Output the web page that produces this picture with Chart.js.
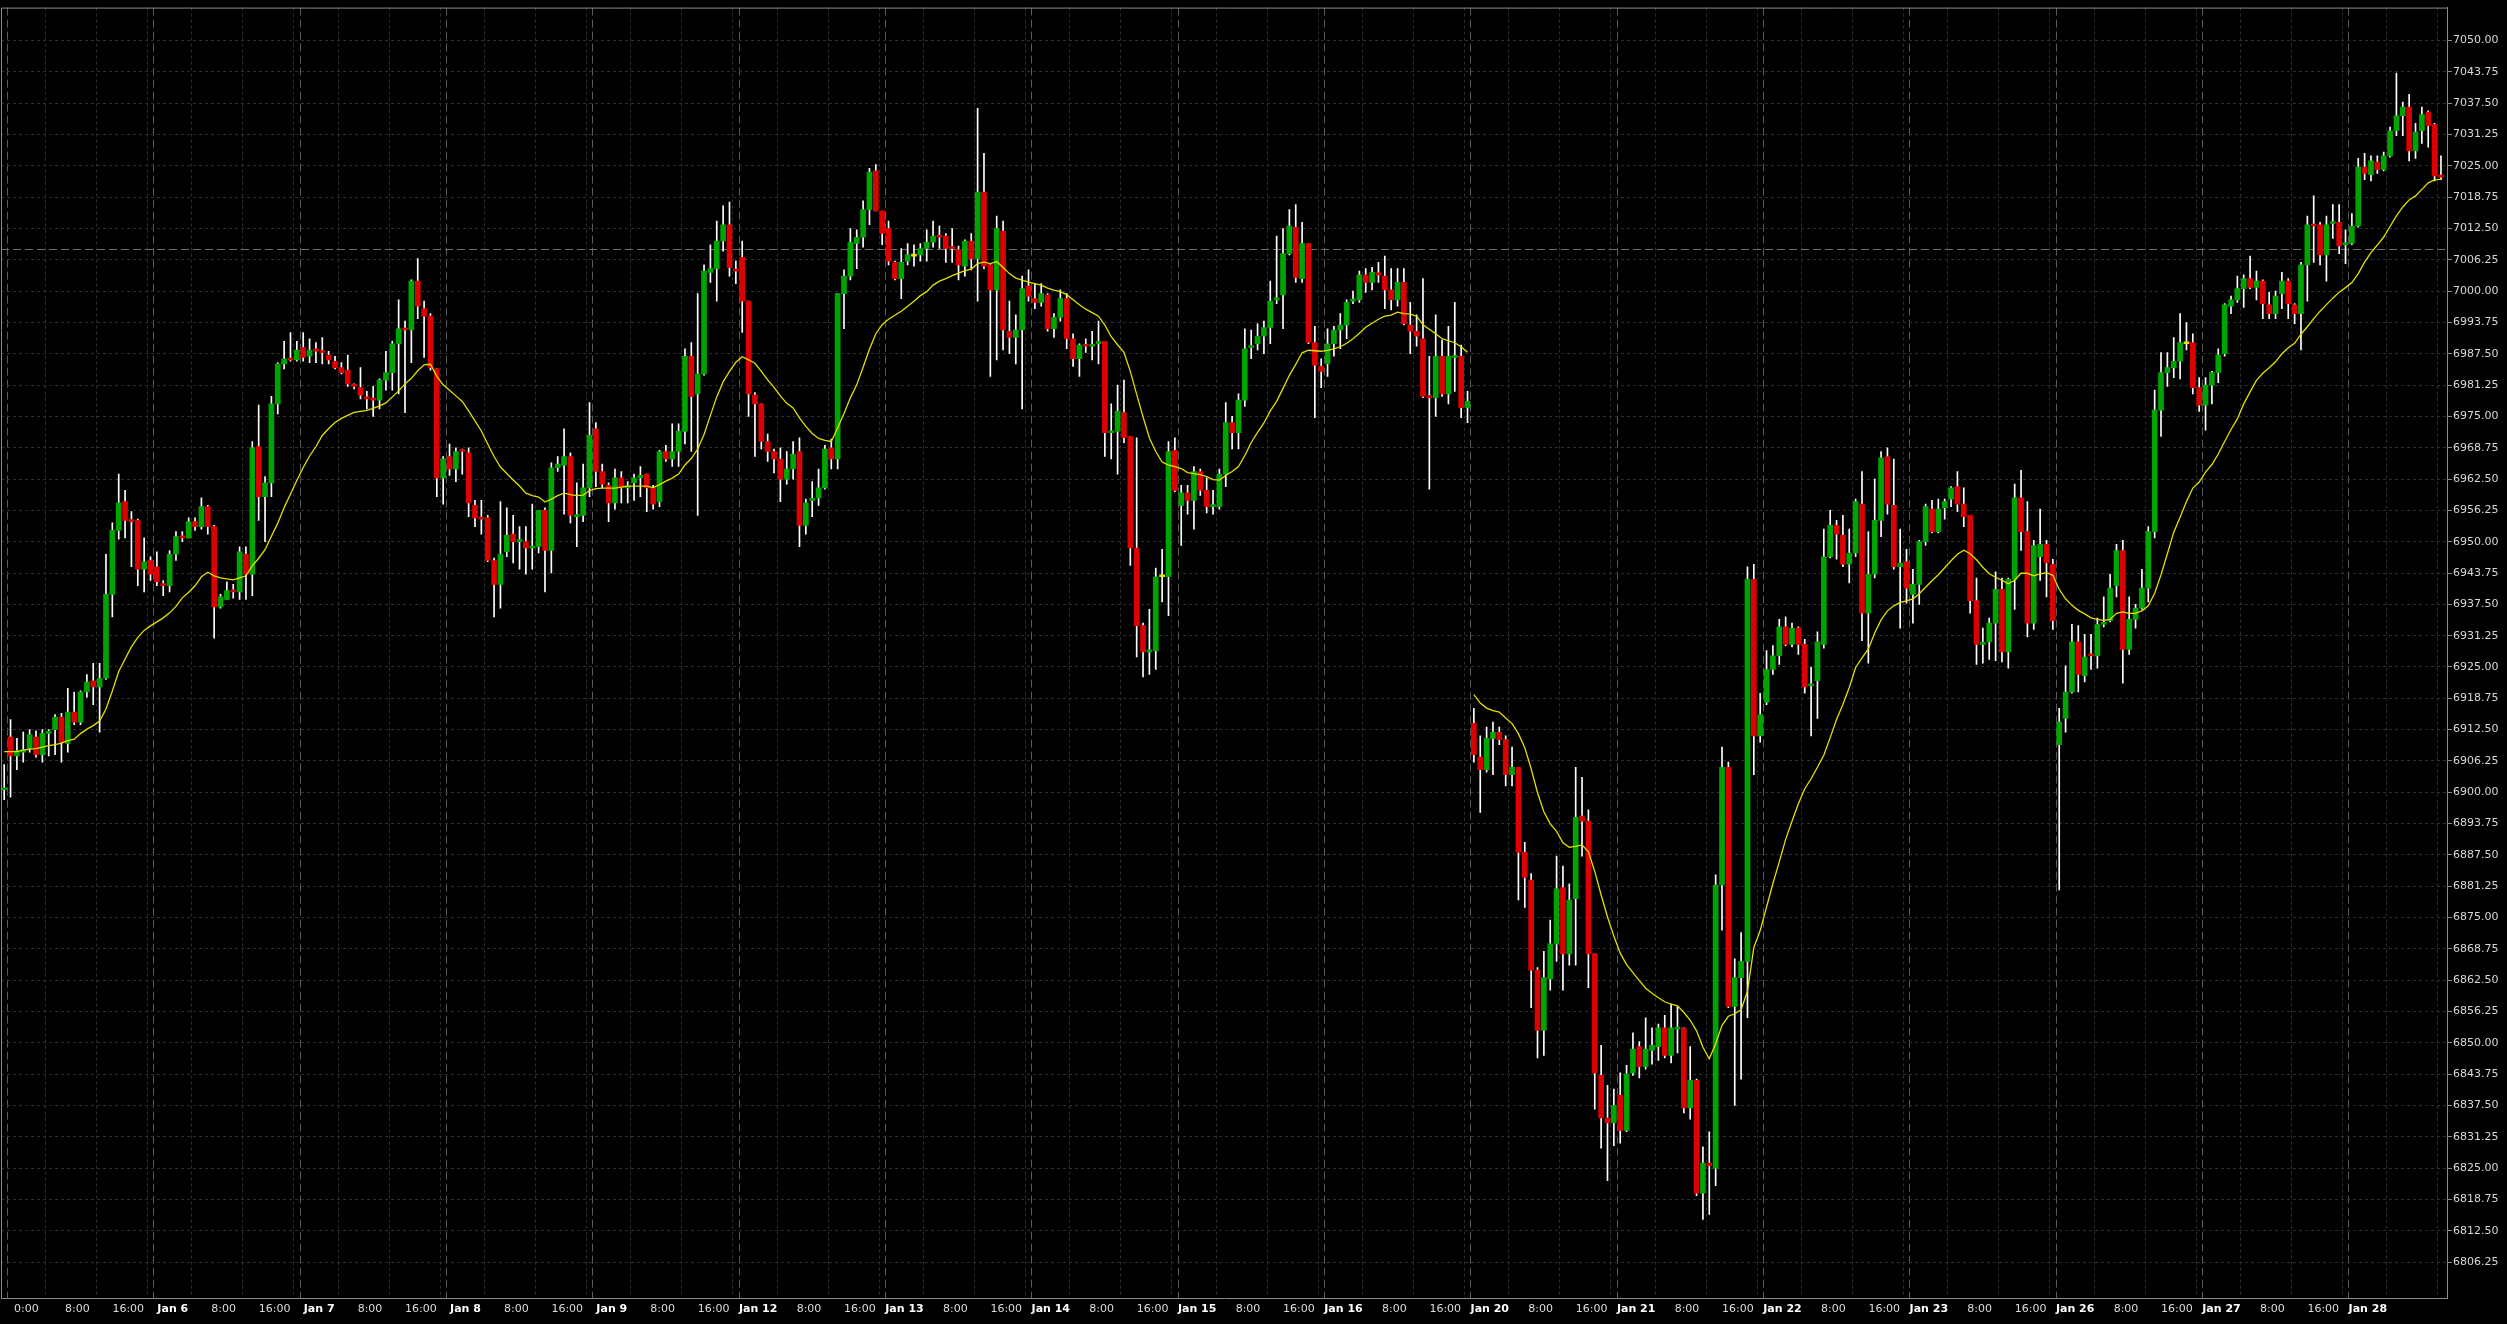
<!DOCTYPE html>
<html><head><meta charset="utf-8">
<script src="https://cdn.jsdelivr.net/npm/chart.js@4.4.1/dist/chart.umd.min.js"></script>
<style>html,body{margin:0;padding:0;background:#000;overflow:hidden}#wrap{width:2507px;height:1324px;position:relative}</style>
</head><body><div id="wrap"><canvas id="c"></canvas></div>
<script>
// ---- data (hourly candles) ----
const opens=[
6900.5,6911,6907.25,6908,6908.75,6911,6907.5,6911.75,6912.5,6915,
6909.75,6916,6914,6920,6922.25,6921,6922.75,6939.5,6952.25,6958,
6954.25,6954.25,6944.5,6946.25,6945,6941.5,6941.25,6947.5,6951,6950.75,
6954,6953,6957,6953,6937,6938.5,6940.25,6940,6947.5,6943.5,
6969,6959,6961.75,6977.5,6985.5,6986.5,6986.25,6988.75,6987,6988.5,
6988,6987.25,6986,6984.75,6984.25,6981.25,6980.75,6978.75,6978.5,6978.25,
6982.25,6983.75,6989.5,6992.5,6992.25,7002,6996.5,6995,6984.5,6962.75,
6967,6964.5,6968.25,6967.75,6957.25,6954.75,6954.75,6946.25,6941.5,6948,
6951.5,6950,6950,6948.75,6949,6956.25,6948.25,6964.75,6965.25,6967,
6955,6955.25,6960.75,6972.5,6964,6961.25,6957.75,6962.75,6960.75,6961.75,
6962.75,6963.5,6960.75,6958,6968,6966.5,6968,6972,6987,6979.5,
6983.5,7003.75,7004.5,7010,7013.25,7004.25,7006.75,6998,6979.25,6977.5,
6970,6968,6966.5,6962.5,6964.5,6968,6953.25,6958.25,6958.75,6960.75,
6968.75,6966.5,6999.5,7003,7009.5,7010.75,7016.25,7024,7016,7012.5,
7005.75,7002.5,7006,7007,7007.25,7008.5,7009.75,7011,7011,7008.75,
7008.25,7005,7010,7006.5,7019.75,7005.25,7000.25,7012,6992,6990.75,
6992.25,7001,6998.5,6997.75,6999.25,6992.5,6994.75,6998.5,6990.5,6986.5,
6989.25,6989,6989.5,6990,6971.75,6972,6975.75,6971,6948.75,6933.25,
6928,6928.25,6943,6943,6968.25,6957.25,6959.75,6958.25,6964,6960.25,
6957,6957,6963.5,6973.75,6971.75,6978.25,6988.75,6989.5,6991,6992.75,
6998.25,6999.25,7007.5,7012.75,7002.5,7009.5,6989.75,6985,6985.5,6989.5,
6992.25,6993.25,6998,6998.25,7003.25,7001.75,7003.5,7003,7000.25,6998.25,
7001.75,6993.25,6992,6990.5,6979,6978.75,6987,6979.5,6986.75,6987,
6976.75,6913.75,6907,6904.5,6910.75,6912,6910.5,6903.5,6905,6888,
6882.5,6864.5,6852.5,6862.75,6869.75,6881,6867.75,6878.75,6895.25,6894.25,
6867.75,6843.5,6835,6834,6839.5,6832.5,6844,6849.25,6845.25,6848.5,
6849.25,6853,6847.5,6852.75,6853,6837,6842.5,6820,6826,6825,
6881.5,6905,6857.25,6863,6866.25,6942.5,6911.25,6918,6924.5,6927.25,
6933,6929.5,6932.75,6929.5,6921.25,6922.25,6929.5,6947,6953.25,6951.25,
6945.5,6947.75,6957.5,6935.75,6943.5,6954.25,6967,6957.25,6945,6946,
6939.5,6941.5,6950,6956.5,6952,6956.75,6958.5,6961,6957.5,6955.25,
6938.25,6929.5,6930,6933.75,6940.5,6928,6942.5,6958.75,6952,6933.75,
6947,6949.5,6945.5,6909.5,6914.75,6920,6930,6923.25,6927.5,6927.25,
6933.5,6934.25,6941.25,6948.25,6928.5,6934.5,6936.75,6940.75,6952,6976.25,
6983.75,6984.75,6986,6989.5,6989.75,6980.75,6977.25,6981.25,6983.75,6987.5,
6997,6998.25,7000.5,7002.5,7000.75,7002,6997.25,6995.5,6999.5,7002,
6997.25,6995.5,7005.25,7013.25,7013.25,7007.25,7013.5,7013.75,7009.25,7009.5,
7013,7024.75,7023.25,7025.75,7024.25,7027,7032,7035,7036.75,7028,
7032,7035.75,7033.25,7023];
const highs=[
6905.5,6914.5,6910.75,6912,6912.5,6912.25,6912.5,6912.5,6915.5,6915.75,
6920.75,6920,6920.25,6923.5,6925.75,6925.75,6947.5,6953.75,6963.5,6960.25,
6956,6954.5,6950.75,6947,6948,6942.25,6948.25,6952,6952,6954.75,
6954.75,6958.75,6957.25,6953.25,6939.5,6942,6941.5,6949,6949,6970,
6977.25,6963,6979,6985.75,6990,6991.75,6990,6991.75,6990.5,6989.75,
6990.75,6988,6987,6985.75,6987.25,6981.5,6984.75,6980,6981,6982.5,
6988,6990,6998.25,6994,7002.25,7006.5,6998,6995.5,6984.5,6967,
6969.5,6968.75,6968.5,6968.75,6958.25,6958.25,6955.25,6946.75,6958,6956.75,
6955.25,6953,6953,6957.5,6956.25,6956.75,6965.75,6967,6972.5,6967.75,
6961.75,6965.5,6977.75,6973.75,6965.5,6961.75,6964.5,6964,6962,6963.5,
6965,6963.5,6961.25,6968.25,6969.25,6973.5,6973.5,6988.5,6989.75,6999.5,
7005.25,7009.25,7014,7017,7017.75,7006,7010,6998,6979.75,6977.5,
6971.5,6968.5,6968.75,6968,6970,6970.75,6958.5,6962,6964.5,6969.25,
6970.5,6999.5,7004.25,7012.5,7012.25,7018,7024.5,7025.25,7016,7014,
7006,7008.5,7009.5,7009.25,7009.5,7012.25,7014,7013,7011.5,7012.5,
7009,7010.25,7011.5,7036.5,7027.5,7005.5,7015,7014,6998,6995.25,
7003,7004.25,7001.5,7001.5,6999.5,6995.5,7000.25,6999.5,6991.5,6989.5,
6990.5,6992,6994,6990,6977.5,6981.25,6982.25,6971,6970.75,6933.75,
6936.5,6944.75,6948.5,6970,6970.75,6961.25,6961.25,6965,6964.5,6962.75,
6960.25,6964.5,6977.75,6975,6979.5,6992.5,6992.25,6993.5,6994,7002,
7011,7012.5,7016.25,7017.25,7013.75,7009.5,6993,6986.5,6992.5,6993,
6995.5,6998.25,7000,7004,7004.5,7004.75,7005.75,7007,7004.5,7004.5,
7004.5,6997.75,6995.25,7002.5,6987,6995.25,6990.25,6993,6997.75,6989.25,
6980,6916.75,6911.25,6913,6914,6913,6911.25,6909,6905,6890,
6883.75,6865,6868.25,6874.5,6887.25,6885.25,6881.75,6905,6903,6896.5,
6867.75,6849.5,6841.5,6840.75,6844,6845.5,6852,6850.25,6855,6853,
6853.75,6855.5,6857.75,6857.25,6853,6849.25,6842.75,6829.25,6832.25,6883.5,
6909,6906,6866.75,6872,6945,6945.5,6919.75,6928.25,6929.25,6934.5,
6935,6933.75,6933,6930.5,6925,6932,6952.5,6956.25,6954.25,6955.25,
6952.5,6958.5,6964,6952,6962.5,6968,6968.75,6966.5,6952.5,6948.5,
6944.5,6950.25,6957.5,6958.25,6958.5,6958.5,6961,6964,6960.75,6955.25,
6942.75,6932.75,6934.75,6944,6942.75,6942.75,6961.5,6964.25,6958,6950.25,
6956.5,6950.25,6946.5,6916.75,6925.25,6933.5,6933.25,6931.5,6931.5,6934.75,
6939,6943.5,6949.5,6950.25,6939,6937.5,6944.5,6953,6980.25,6987.75,
6987.75,6990.75,6995.5,6993.75,6991.5,6982.75,6982.75,6984,6988.5,6997.5,
6999,7003,7003.25,7007,7004,7002.25,6999.75,7000,7003.75,7002.5,
6997.5,7005.75,7015,7019,7013.75,7015,7017.25,7017.25,7012.25,7015.5,
7026.5,7027.5,7027,7027,7027.75,7032.75,7043.5,7037.75,7039.25,7033.5,
7036.75,7036,7033.5,7027];
const lows=[
6898.5,6899,6904.5,6906,6908,6907,6906,6907.25,6907.5,6906,
6908,6913.5,6913.5,6919,6917.5,6912,6922.5,6935,6950.5,6950.75,
6945,6941.25,6940,6942.25,6941.25,6939.25,6940,6946.25,6950,6950.75,
6952.25,6952.5,6951.5,6930.75,6936.75,6938.5,6938.75,6938.5,6938.5,6939.25,
6954.25,6950,6959,6975.5,6984.5,6986,6986,6986,6985.75,6985.75,
6985.5,6985.5,6984.5,6983.5,6981,6980.5,6978.5,6976.5,6975,6976.5,
6980.25,6980.25,6979.5,6975.75,6985.75,6994.5,6986.75,6984.25,6959,6957.5,
6963.25,6962,6963.5,6955,6953,6951.5,6946,6935,6936.75,6947,
6945.75,6944.5,6943.5,6944.5,6947.75,6940,6943.75,6964,6955.5,6953.75,
6949,6954,6959,6961,6960.75,6954,6956.5,6957.75,6957.75,6958.25,
6959,6956,6956.5,6957,6966,6965,6965,6969.5,6968,6955.25,
6983.25,7001.75,6998,7008,7003,7001.5,6991.75,6975,6967,6968.5,
6966,6963.75,6958,6961.5,6962.5,6949,6951.5,6955,6957.25,6960.5,
6964.5,6964.5,6992.5,7002.25,7004.5,7008.75,7013.25,7016,7009.25,7005.25,
7002.25,6998.5,7005.25,7005,7006,7006,7008.75,7008.5,7005.75,7005.75,
7002.25,7003,7004.25,6998,7004.5,6983,6986.25,6988.25,6987.5,6985.5,
6976.5,6998,6996.5,6997,6992,6990.75,6994,6988.5,6985,6983,
6987.75,6986.25,6985.5,6967,6966.5,6963.5,6969.75,6945.25,6927,6923,
6923.5,6924.5,6938,6935.25,6960,6949.25,6955.5,6952.5,6959.25,6955.75,
6955.5,6956.5,6961,6968.5,6968.5,6977,6986.5,6988.25,6987.5,6989.5,
6997.5,6992.5,7007.25,7001.75,7001.75,6989.5,6974.75,6980.75,6983,6987,
6988.5,6990.5,6997.5,6997.75,6999.75,7000.25,7001.75,6996.5,6996.25,6997,
6993.25,6987.5,6989,6978.75,6960.5,6975,6979,6977.5,6980,6974.75,
6973.75,6906,6896,6904,6903.5,6909.5,6901.25,6901.25,6878.5,6877,
6857,6847,6847.5,6860.5,6866.25,6860.5,6865.5,6865.5,6887.25,6861,
6836.75,6829,6822.5,6829.5,6830,6832.25,6843.5,6843,6844.75,6845.75,
6846.5,6847,6846,6848,6836,6834.75,6819.5,6814.75,6815.75,6821.5,
6872.5,6857,6837.5,6842.75,6855,6903.5,6910,6917.5,6923.5,6925.5,
6929.25,6929,6927.5,6919.75,6911.25,6914.75,6928.75,6946.75,6946.5,6945,
6941.75,6947,6930.25,6925.75,6942.75,6951,6955.5,6944.5,6932.75,6937.75,
6933.75,6937.5,6949.25,6951.75,6951.75,6954.5,6957,6956,6953,6935.75,
6925.5,6925.75,6926.5,6926.25,6926,6924.75,6936.5,6948.25,6931,6932.5,
6942.25,6939,6932.5,6880.5,6912,6919.75,6920,6922,6924.5,6924.75,
6933,6934,6939,6921.75,6927.5,6932.75,6936.5,6938,6950.75,6971,
6981,6982.75,6982.5,6988.25,6979.5,6976,6972.25,6977.5,6981.75,6987,
6995.5,6997.75,6996.75,7000.5,6998.25,6994.5,6994.5,6994.5,6996.5,6994.5,
6993.5,6988.25,6998,7005.75,7005.25,7002,7010.5,7007.5,7005.5,7009.25,
7012.75,7022.25,7022,7023.5,7024,7026.75,7031,7031,7026,7026.5,
7029.5,7028.75,7022,7022.25];
const closes=[
6900.75,6907.25,6908.25,6908.5,6911.5,6907.5,6911.75,6912,6915,6910,
6916,6914,6920,6922,6921,6922.75,6939.5,6952.25,6957.75,6954.25,
6954,6944.5,6946,6943.5,6942,6941.25,6947.5,6951,6950.75,6954,
6953,6957,6953,6937,6939,6940.25,6940,6948,6943.5,6968.75,
6959,6961.75,6977.5,6985.5,6986.5,6986.25,6988.25,6986.75,6988.25,6988,
6987.75,6986.25,6984.75,6983.75,6981.5,6981,6979.25,6978.5,6978.25,6982.25,
6983.75,6989.5,6992.5,6992.25,7002,6997,6995,6984.75,6962.75,6966.5,
6964.5,6968,6968,6957.75,6954.75,6954.5,6946.25,6941.5,6947.5,6951.25,
6950,6950.25,6948.75,6949,6956.25,6948.25,6964.75,6965.5,6967,6955.25,
6955.25,6960.75,6971.25,6964,6961.5,6957.75,6962.75,6960.75,6961,6962.75,
6963.25,6960.75,6957.5,6968,6966.5,6968,6972,6987,6979,6983.5,
7004,7004.5,7010,7013.25,7004.75,7004,6998,6979.5,6977.5,6970,
6968,6966.5,6962.5,6964.5,6967.5,6953.25,6957.75,6958.5,6960.75,6968.5,
6966.5,6999.5,7003,7009.75,7010.75,7016.25,7023.75,7016,7011.5,7006,
7002.5,7005.75,7007.25,7007,7008.5,7009.75,7011,7010.75,7008.5,7008.5,
7005.25,7010,7006.5,7019.75,7005,7000.25,7012.5,6992.25,6990.75,6992.25,
7000.5,6999,6997.75,6999.5,6992.5,6994.75,6998.5,6990.5,6986.5,6989.25,
6989,6989.25,6990,6971.75,6972,6976,6970.75,6948.75,6933.25,6928,
6928.25,6943,6943,6968,6960.25,6959.75,6958.25,6964,6960.25,6957,
6957.25,6963.5,6973.75,6971.75,6978.25,6988.5,6989,6991,6992.75,6998,
6998.5,7007.5,7013,7002.75,7009.5,6989.75,6985.25,6984,6989.5,6992.25,
6993.25,6997.75,6998.25,7003.25,7001.75,7003.75,7003.25,7000.25,6998.25,7001.75,
6993.5,6992,6991,6979,6978.75,6987,6979.5,6987,6987,6976.75,
6978,6907.5,6904.5,6910.75,6912,6910.5,6903.5,6905,6888,6883,
6864.5,6852.5,6863,6869.75,6880.75,6867.75,6878.5,6895,6894.25,6867.75,
6844,6835,6834,6837.5,6832.5,6843.75,6848.75,6845.25,6848.75,6849.5,
6853,6847.5,6853,6853,6837,6842.5,6820,6826,6825.5,6881.5,
6905,6857.25,6863,6866.25,6942.5,6911.25,6915.5,6924.5,6927.25,6933,
6929.5,6932.75,6929.5,6921,6921.5,6930,6947,6953.25,6951.5,6945.5,
6947.75,6958,6935.75,6943.5,6954.25,6966.75,6957.5,6945,6945.75,6940.75,
6941.5,6950,6957,6952,6956.5,6958,6960.75,6957.5,6955,6938.25,
6929.5,6929.75,6933.75,6940.5,6928,6942.5,6958.75,6952,6933.75,6949.25,
6949.5,6945.75,6934.25,6914,6920,6930,6923.5,6927,6927.25,6933.5,
6933.75,6940.75,6948.25,6928.5,6934.5,6936.75,6940.75,6952,6976.25,6983.75,
6984.75,6986,6989.75,6989.5,6980.75,6977.25,6981.25,6983.75,6987.25,6997.25,
6998.25,7000.5,7002.5,7000.75,7002,6997.5,6995.5,6999,7002,6997.5,
6995.5,7005.25,7013.25,7013,7007.25,7013.25,7013.75,7009,7009.5,7013,
7024.75,7023.5,7026,7024.25,7027,7032,7035,7036.75,7028,7031.75,
7035.25,7033,7023,7022.75];
const maValues=[
6908.1,6908.1,6908.1,6908.4,6908.6,6908.7,6909.0,6909.3,6909.5,6909.8,
6910.3,6910.6,6911.7,6912.6,6913.3,6914.2,6916.6,6920.2,6924.1,6926.6,
6929.0,6930.9,6932.3,6933.2,6934.0,6934.8,6935.8,6937.1,6938.8,6939.9,
6941.2,6943.0,6943.9,6943.2,6942.8,6942.6,6942.4,6942.8,6943.2,6945.2,
6946.7,6948.4,6951.1,6953.7,6956.8,6959.5,6962.2,6964.8,6967.1,6969.0,
6971.2,6972.6,6973.8,6974.6,6975.2,6975.8,6976.0,6976.2,6976.6,6977.1,
6977.7,6978.9,6980.1,6981.5,6982.6,6984.1,6985.3,6985.4,6983.0,6981.3,
6980.2,6979.1,6978.0,6976.1,6974.1,6972.1,6969.5,6967.0,6964.9,6963.6,
6962.3,6961.1,6959.7,6959.2,6958.9,6957.9,6958.5,6959.2,6959.7,6959.4,
6959.2,6959.3,6960.2,6960.6,6960.7,6960.7,6960.7,6960.9,6961.1,6961.1,
6961.1,6961.1,6960.8,6961.4,6962.1,6962.7,6963.5,6965.3,6966.6,6968.5,
6971.4,6975.2,6978.9,6981.9,6984.0,6985.8,6986.9,6986.3,6985.6,6984.0,
6982.3,6980.8,6979.1,6977.6,6976.7,6974.7,6973.0,6971.6,6970.6,6970.2,
6970.0,6972.7,6975.6,6978.7,6981.3,6984.8,6988.4,6991.5,6993.3,6994.4,
6995.2,6996.0,6997.0,6998.0,6999.1,6999.9,7001.2,7002.0,7002.5,7003.1,
7003.6,7004.1,7004.4,7005.5,7005.8,7005.5,7005.9,7004.7,7003.5,7002.6,
7002.2,7001.8,7001.5,7001.2,7000.6,7000.2,6999.9,6999.3,6998.3,6997.3,
6996.4,6995.7,6995.0,6993.2,6990.9,6989.3,6987.8,6984.0,6979.4,6974.9,
6970.7,6968.0,6965.9,6965.3,6965.0,6964.6,6963.8,6963.6,6963.4,6963.0,
6962.4,6962.3,6963.2,6964.0,6965.0,6967.2,6969.8,6971.8,6973.7,6976.1,
6978.0,6980.6,6983.2,6985.4,6987.7,6988.2,6988.1,6988.0,6988.2,6988.5,
6988.9,6989.6,6990.5,6991.6,6992.8,6993.6,6994.4,6995.0,6995.2,6995.8,
6995.5,6995.4,6995.0,6993.3,6992.4,6991.5,6990.5,6990.1,6989.7,6988.9,
6987.8,6919.5,6917.8,6916.8,6916.3,6916.0,6914.8,6913.7,6911.7,6908.9,
6904.7,6899.9,6896.1,6893.7,6892.2,6889.9,6889.0,6889.2,6889.5,6888.1,
6884.2,6879.5,6875.1,6871.3,6867.9,6865.6,6864.0,6862.4,6860.9,6859.9,
6859.0,6858.2,6857.7,6857.4,6856.1,6854.5,6852.4,6849.1,6846.8,6849.8,
6853.5,6855.3,6855.8,6856.6,6860.3,6869.0,6872.4,6877.1,6881.8,6886.1,
6890.6,6894.2,6897.7,6900.7,6902.7,6905.0,6907.4,6910.9,6914.5,6917.5,
6920.9,6924.9,6926.8,6928.6,6931.8,6934.4,6936.2,6937.2,6937.9,6938.2,
6938.6,6939.6,6940.9,6942.2,6943.4,6944.8,6946.2,6947.5,6948.3,6947.6,
6946.4,6944.9,6943.6,6942.9,6942.3,6941.6,6942.3,6943.7,6943.7,6943.2,
6943.6,6943.8,6943.3,6940.5,6938.6,6937.3,6936.3,6935.6,6934.8,6934.5,
6934.3,6934.5,6935.7,6936.0,6935.7,6935.7,6936.2,6937.2,6939.7,6943.4,
6947.6,6951.9,6954.9,6958.0,6960.7,6961.9,6963.9,6965.4,6967.5,6970.0,
6972.4,6974.5,6977.5,6979.9,6982.2,6983.6,6984.7,6985.9,6987.5,6988.7,
6989.6,6991.4,6992.9,6994.5,6996.0,6997.3,6998.6,6999.8,7000.7,7001.7,
7003.5,7005.8,7007.7,7009.2,7010.8,7012.9,7015.0,7016.8,7018.2,7019.0,
7020.3,7021.6,7022.2,7022.3];
const xTickLabels=["0:00","8:00","16:00","Jan 6","8:00","16:00","Jan 7","8:00","16:00","Jan 8","8:00","16:00",
"Jan 9","8:00","16:00","Jan 12","8:00","16:00","Jan 13","8:00","16:00","Jan 14","8:00","16:00",
"Jan 15","8:00","16:00","Jan 16","8:00","16:00","Jan 20","8:00","16:00","Jan 21","8:00","16:00",
"Jan 22","8:00","16:00","Jan 23","8:00","16:00","Jan 26","8:00","16:00","Jan 27","8:00","16:00","Jan 28"];
const yTicks=[6806.25,6812.5,6818.75,6825,6831.25,6837.5,6843.75,6850,6856.25,6862.5,6868.75,6875,
6881.25,6887.5,6893.75,6900,6906.25,6912.5,6918.75,6925,6931.25,6937.5,6943.75,6950,6956.25,6962.5,
6968.75,6975,6981.25,6987.5,6993.75,7000,7006.25,7012.5,7018.75,7025,7031.25,7037.5,7043.75,7050];
const refPrice=7008.4;      // dashed reference line
const maBreakAfter=230;     // MA line is interrupted after this candle

// ---- layout helpers ----
const N=opens.length, perDay=23, xMin=-0.5, xMax=N-0.05;
const dayLines=[], hourLines=[];
for(let k=0;k*perDay+1<N;k++){
  const c0=1+perDay*k; dayLines.push(c0-0.5);
  for(let j=0;j<3;j++){const v=c0+5.5+8*j; if(v<xMax) hourLines.push(v);}
}
const daySet=new Set(dayLines);
const gridTicks=[...dayLines,...hourLines].sort((a,b)=>a-b);
const labelPos=xTickLabels.map((t,j)=>1+perDay*Math.floor(j/3)+2.5+8*(j%3));
const labelMap=new Map(labelPos.map((p,j)=>[p,xTickLabels[j]]));
const isDate=v=>{const t=labelMap.get(v);return !!t&&t.startsWith('Jan');};

const UP='#00a400', DOWN='#dc0000', FLAT='#e6e600';
const bodyColors=opens.map((o,i)=>closes[i]>o?UP:(closes[i]<o?DOWN:FLAT));

const framePlugin={id:'frame',
  beforeDatasetsDraw(chart){
    const {ctx,chartArea:a,scales:{y}}=chart;
    const yy=Math.round(y.getPixelForValue(refPrice))+0.5;
    ctx.save();ctx.strokeStyle='#6e6e6e';ctx.lineWidth=1;ctx.setLineDash([8,4]);
    ctx.beginPath();ctx.moveTo(a.left,yy);ctx.lineTo(a.right,yy);ctx.stroke();ctx.restore();
  },
  afterDraw(chart){
    const {ctx,chartArea:a}=chart;
    ctx.save();ctx.strokeStyle='#8c8c8c';ctx.lineWidth=1;
    ctx.beginPath();ctx.moveTo(a.left+0.5,a.bottom);ctx.lineTo(a.left+0.5,a.top+0.5);ctx.lineTo(a.right,a.top+0.5);ctx.stroke();ctx.restore();
  }};

new Chart(document.getElementById('c'),{
  type:'bar',
  data:{datasets:[
    {type:'line',label:'MA',data:maValues.map((v,i)=>({x:i,y:v})),borderColor:'#e0e000',borderWidth:1.3,
     pointRadius:0,tension:0,order:0,
     segment:{borderColor:c=>c.p0DataIndex===maBreakAfter?'rgba(0,0,0,0)':undefined}},
    {type:'bar',label:'body',data:opens.map((o,i)=>({x:i,y:[o,closes[i]]})),backgroundColor:bodyColors,
     borderWidth:0,grouped:false,barPercentage:1,categoryPercentage:1,maxBarThickness:5,minBarLength:2,order:1},
    {type:'bar',label:'wick',data:lows.map((l,i)=>({x:i,y:[l,highs[i]]})),backgroundColor:'#ffffff',
     borderWidth:0,grouped:false,barPercentage:1,categoryPercentage:1,maxBarThickness:1,order:2}
  ]},
  options:{
    responsive:true,maintainAspectRatio:false,animation:false,devicePixelRatio:1,
    layout:{padding:{top:6,left:1,right:0,bottom:0}},
    plugins:{legend:{display:false},tooltip:{enabled:false}},
    scales:{
      x:{type:'linear',position:'bottom',min:xMin,max:xMax,offset:false,weight:0,
        afterBuildTicks:s=>{s.ticks=gridTicks.map(v=>({value:v}));},
        afterFit:s=>{s.height=0;},
        ticks:{display:false,autoSkip:false},
        grid:{offset:false,drawTicks:false,lineWidth:1,
          color:c=>(c.tick&&daySet.has(c.tick.value))?'#5a5a5a':'#2e2e2e'},
        border:{display:true,color:'#8c8c8c',width:1,
          dash:c=>(c.tick&&daySet.has(c.tick.value))?[8,4]:[3,3]}},
      xl:{type:'linear',position:'bottom',min:xMin,max:xMax,offset:false,weight:1,
        afterBuildTicks:s=>{s.ticks=labelPos.map(v=>({value:v}));},
        afterFit:s=>{s.height=26;},
        grid:{display:false,drawTicks:false,offset:false},border:{display:false},
        ticks:{autoSkip:false,maxRotation:0,minRotation:0,padding:5,
          callback:v=>labelMap.get(v)||'',
          color:c=>(c.tick&&isDate(c.tick.value))?'#ffffff':'#dcdcdc',
          font:c=>({family:'DejaVu Sans',size:11,weight:(c.tick&&isDate(c.tick.value))?'bold':'normal'})}},
      y:{type:'linear',position:'right',min:6799.08,max:7056.58,beginAtZero:false,
        afterBuildTicks:s=>{s.ticks=yTicks.map(v=>({value:v}));},
        afterFit:s=>{s.width=60;},
        ticks:{autoSkip:false,padding:1,color:'#d8d8d8',font:{family:'DejaVu Sans',size:11},
          callback:v=>Number(v).toFixed(2)},
        grid:{color:'#2e2e2e',lineWidth:1,drawTicks:true,tickLength:5,tickColor:'#8c8c8c',tickBorderDash:[]},
        border:{display:true,color:'#8c8c8c',width:1,dash:[3,3]}}
    }
  },
  plugins:[framePlugin]
});
</script></body></html>
